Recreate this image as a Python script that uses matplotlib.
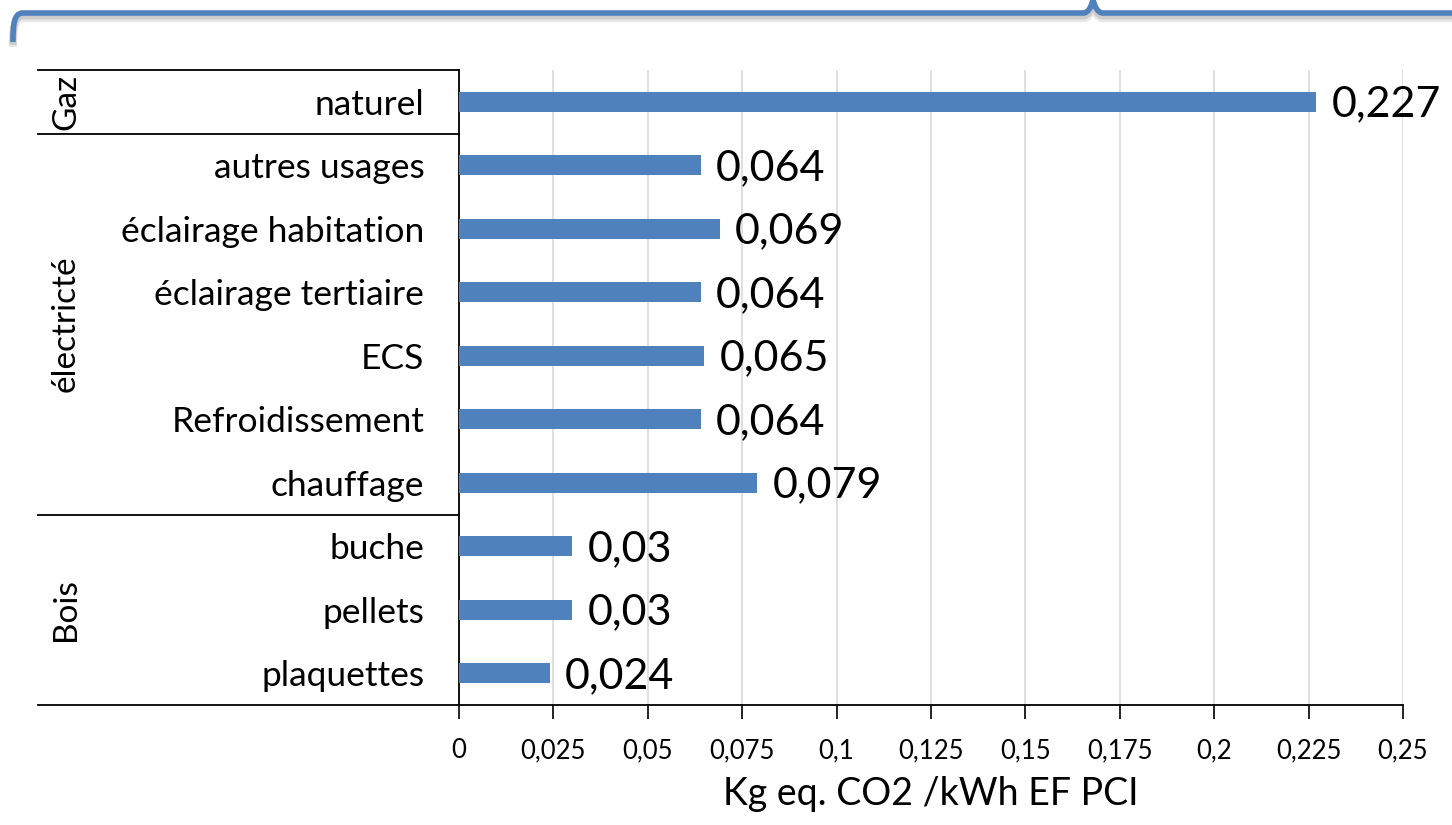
import matplotlib.pyplot as plt
import matplotlib as mpl
from matplotlib.lines import Line2D
from matplotlib.path import Path
from matplotlib.patches import PathPatch
import matplotlib.transforms as mtransforms

mpl.rcParams.update({
    "font.family": ["Lato", "DejaVu Sans"],
    "axes.spines.top": False,
    "axes.spines.right": False,
})

# categories listed top to bottom
CATEGORIES = ["naturel", "autres usages", "éclairage habitation", "éclairage tertiaire",
              "ECS", "Refroidissement", "chauffage", "buche", "pellets", "plaquettes"]
VALUES = [0.227, 0.064, 0.069, 0.064, 0.065, 0.064, 0.079, 0.03, 0.03, 0.024]
GROUPS = ["Gaz", "électricté", "Bois"]
GROUP_SIZES = [1, 6, 3]
XTICKS = [0, 0.025, 0.05, 0.075, 0.1, 0.125, 0.15, 0.175, 0.2, 0.225, 0.25]
XLABEL = "Kg eq. CO2 /kWh EF PCI"

BAR_COLOR = "#4F81BD"
W, H = 1452, 825


def fmt(v):
    s = f"{v:.3f}".rstrip("0").rstrip(".")
    return s.replace(".", ",")


fig = plt.figure(figsize=(W / 100, H / 100), dpi=100)
ax = fig.add_axes([459 / W, 1 - 705 / H, (1403 - 459) / W, (705 - 70) / H])

ypos = list(range(len(CATEGORIES)))
ax.barh(ypos, VALUES, height=0.32, color=BAR_COLOR, zorder=3)
ax.set_ylim(len(CATEGORIES) - 0.5, -0.5)
ax.set_xlim(0, 0.25)

for y, v in zip(ypos, VALUES):
    ax.annotate(fmt(v), (v, y), xytext=(11, -2), textcoords="offset points",
                va="center", ha="left", fontsize=31, color="black", zorder=4)

# x axis
ax.set_xticks(XTICKS)
ax.set_xticklabels([fmt(t) for t in XTICKS], fontsize=18.5)
ax.tick_params(axis="x", length=10, width=1.2, pad=14, direction="out")
ax.grid(axis="x", color="#d9d9d9", linewidth=1.2, zorder=0)
ax.set_xlabel(XLABEL, fontsize=27, labelpad=9)
ax.spines["bottom"].set_linewidth(1.3)
ax.spines["left"].set_linewidth(1.3)

# category labels (inner level)
ax.set_yticks(ypos)
ax.set_yticklabels(CATEGORIES, fontsize=25.5)
ax.tick_params(axis="y", length=0, pad=25)

# group level: separators and rotated labels
trans = mtransforms.blended_transform_factory(ax.transAxes, ax.transData)
x_left = (38 - 459) / (1403 - 459)
x_glabel = (66 - 459) / (1403 - 459)
bounds = [-0.5]
for n in GROUP_SIZES:
    bounds.append(bounds[-1] + n)
for b in bounds:
    ax.add_line(Line2D([x_left, 0], [b, b], transform=trans, color="black",
                       linewidth=1.3, clip_on=False))
for g, lo, hi in zip(GROUPS, bounds[:-1], bounds[1:]):
    ax.text(x_glabel, (lo + hi) / 2, g, transform=trans, rotation=90,
            ha="center", va="center", fontsize=24)


# brace across the top of the figure, drawn in pixel coordinates
def px(x, y):
    return (x / W, 1 - y / H)


verts = [px(13, 42), px(13, 24), px(14, 14), px(22, 13),
         px(1084, 13), px(1090, 12), px(1093, 0),
         px(1096, 12), px(1102, 13), px(1460, 13)]
codes = [Path.MOVETO, Path.CURVE4, Path.CURVE4, Path.CURVE4,
         Path.LINETO, Path.CURVE3, Path.CURVE3,
         Path.CURVE3, Path.CURVE3, Path.LINETO]
for dy, col, lw, a in [(5, "#bbbbbb", 6, 0.35), (3, "#999999", 5, 0.35)]:
    shadow = [(vx, vy - dy / H) for vx, vy in verts]
    fig.add_artist(PathPatch(Path(shadow, codes), facecolor="none", edgecolor=col,
                             linewidth=lw, alpha=a, transform=fig.transFigure))
fig.add_artist(PathPatch(Path(verts, codes), facecolor="none", edgecolor=BAR_COLOR,
                         linewidth=4, transform=fig.transFigure))

fig.savefig("out.png", dpi=100)
